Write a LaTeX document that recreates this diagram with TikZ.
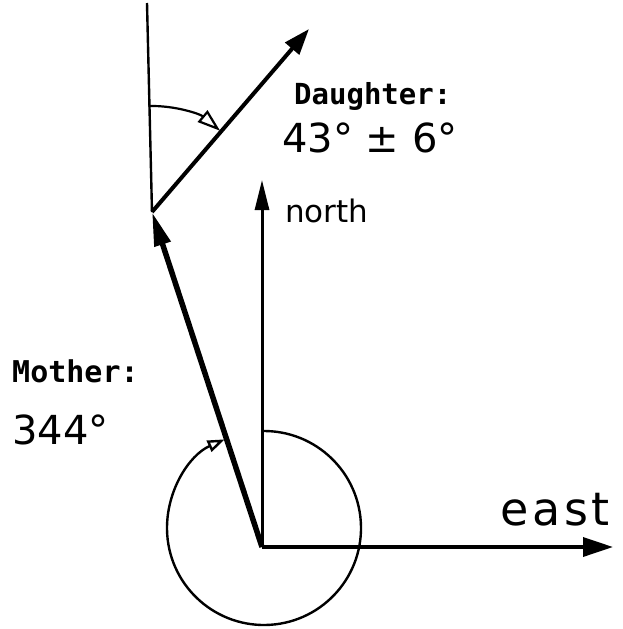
\documentclass[tikz,border=0pt]{standalone}
\usepackage{fontspec}
\usetikzlibrary{arrows.meta}
\newfontfamily\labmono{DejaVu Sans Mono}
\newfontfamily\hand{DejaVu Sans}
\newfontfamily\handwide{DejaVu Sans}[LetterSpace=8]
\begin{document}
\begin{tikzpicture}[x=1pt,y=1pt,
  thinln/.style={line width=2.4pt},
  boldlab/.style={anchor=base west, inner sep=0pt, font=\labmono\bfseries\fontsize{29}{29}\selectfont},
  handlab/.style={anchor=base west, inner sep=0pt, font=\hand\fontsize{40}{40}\selectfont}]
\useasboundingbox[fill=white] (0,0) rectangle (622,-629);
\coordinate (O) at (262,-547);
\coordinate (M) at (152,-212);
\coordinate (T) at (147,-3);
\coordinate (D) at (309,-29);
\coordinate (N) at (262,-180);
\coordinate (E) at (613,-547);
\coordinate (C) at (264,-528);
% reference vertical
\draw[thinln] (M) -- (T);
% mother vector
\draw[line width=5.5pt, -{Triangle[length=34pt,width=16pt]}] (O) -- (M);
% daughter vector
\draw[line width=4pt, -{Triangle[length=26pt,width=18pt]}] (M) -- (D);
% axes
\draw[line width=3pt, -{Triangle[length=30pt,width=14pt]}] (O) -- (N);
\draw[line width=3.5pt, -{Triangle[length=30pt,width=19pt]}] (O) -- (E);
% mother angle circle
\draw[line width=2.4pt, -{Triangle[open,length=17pt,width=12pt,fill=white]}]
  (C) ++(91:97) arc[start angle=91,end angle=-246,radius=97];
% daughter angle arc
\draw[line width=2.2pt, -{Triangle[open,length=23pt,width=15pt,fill=white]}]
  (M) ++(92:106) arc[start angle=92,end angle=50,radius=106];
% labels
\node[boldlab] (dl) at (294,-104) {Daughter:};
\node[handlab] (dv) at (282,-152) {43° ± 6°};
\node[boldlab, font=\labmono\bfseries\fontsize{30}{30}\selectfont] (ml) at (12,-382) {Mother:};
\node[handlab] (mv) at (12,-444) {344°};
\node[handlab, font=\hand\fontsize{31}{31}\selectfont] (nl) at (285,-222) {north};
\node[handlab, font=\handwide\fontsize{46}{46}\selectfont] (el) at (500,-525) {east};
\end{tikzpicture}
\end{document}
